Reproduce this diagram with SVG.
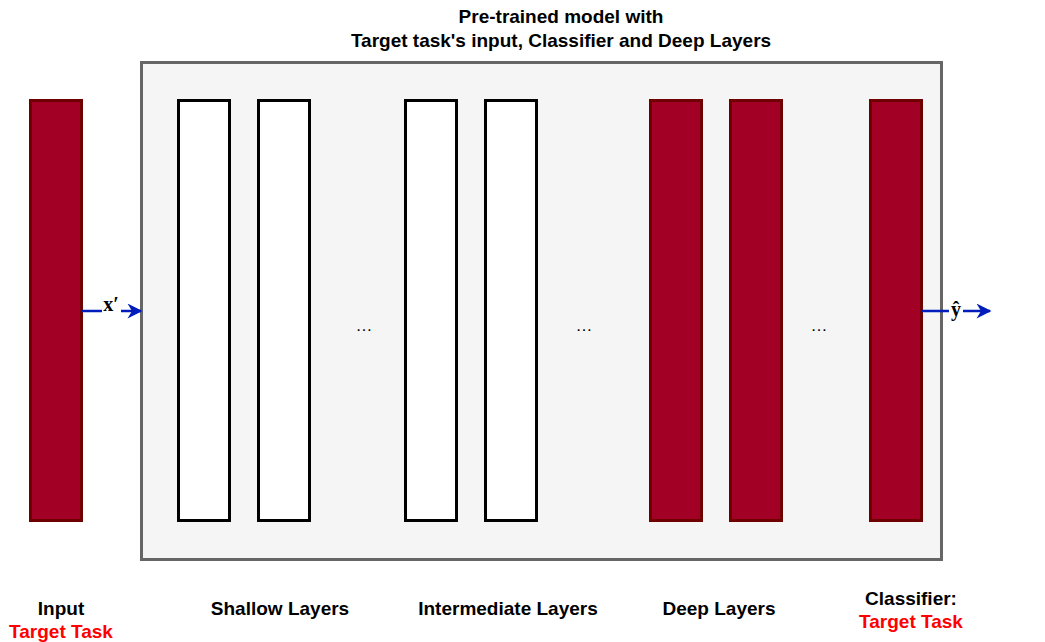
<svg xmlns="http://www.w3.org/2000/svg" width="1045" height="642" viewBox="0 0 1045 642">
<defs>
<style>
.lbl{font-family:"Liberation Sans",Arial,sans-serif;font-weight:bold;font-size:19px;fill:#000;text-anchor:middle}
.red{fill:#ff0000}
.math{font-family:"Liberation Serif","Times New Roman",serif;font-weight:bold;font-size:20px;fill:#000;text-anchor:middle}
.dots{font-family:"Liberation Sans",Arial,sans-serif;font-size:17px;fill:#000;text-anchor:middle}
.rl{fill:#a20025;stroke:#6f0000;stroke-width:3}
.wl{fill:#ffffff;stroke:#000000;stroke-width:3}
.conn{stroke:#001DBC;stroke-width:2.5;fill:none}
</style>
<marker id="ah" viewBox="0 0 10 10" refX="9" refY="5" markerWidth="6.5" markerHeight="6" orient="auto" markerUnits="strokeWidth">
<path d="M0,0 L10,5 L0,10 L3,5 Z" fill="#001DBC"/>
</marker>
</defs>
<rect width="1045" height="642" fill="#ffffff"/>
<g id="title">
<text class="lbl" x="561" y="23">Pre-trained model with</text>
<text class="lbl" x="561" y="47">Target task's input, Classifier and Deep Layers</text>
</g>
<g id="model">
<rect x="141.5" y="62.5" width="800" height="497" fill="#f5f5f5" stroke="#666666" stroke-width="3"/>
</g>
<g id="input"><rect class="rl" x="30.5" y="100.5" width="51" height="420"/></g>
<g id="shallow1"><rect class="wl" x="178.5" y="100.5" width="51" height="420"/></g>
<g id="shallow2"><rect class="wl" x="258.5" y="100.5" width="51" height="420"/></g>
<g id="inter1"><rect class="wl" x="405.5" y="100.5" width="51" height="420"/></g>
<g id="inter2"><rect class="wl" x="485.5" y="100.5" width="51" height="420"/></g>
<g id="deep1"><rect class="rl" x="650.5" y="100.5" width="51" height="420"/></g>
<g id="deep2"><rect class="rl" x="730.5" y="100.5" width="51" height="420"/></g>
<g id="classifier"><rect class="rl" x="870.5" y="100.5" width="51" height="420"/></g>
<g id="dots">
<text class="dots" x="364" y="331">…</text>
<text class="dots" x="584" y="331">…</text>
<text class="dots" x="819" y="331">…</text>
</g>
<g id="connectors">
<line class="conn" x1="82" y1="311" x2="141" y2="311" marker-end="url(#ah)"/>
<line class="conn" x1="922" y1="311" x2="990" y2="311" marker-end="url(#ah)"/>
<rect x="102" y="292" width="19" height="24" fill="#ffffff"/>
<text class="math" x="111" y="311">x′</text>
<rect x="949" y="300" width="14" height="24" fill="#ffffff"/>
<text class="math" x="956" y="316">ŷ</text>
</g>
<g id="labels">
<text class="lbl" x="61" y="615">Input</text>
<text class="lbl red" x="61" y="638">Target Task</text>
<text class="lbl" x="280" y="615">Shallow Layers</text>
<text class="lbl" x="508" y="615">Intermediate Layers</text>
<text class="lbl" x="719" y="615">Deep Layers</text>
<text class="lbl" x="911" y="605">Classifier:</text>
<text class="lbl red" x="911" y="628">Target Task</text>
</g>
</svg>
